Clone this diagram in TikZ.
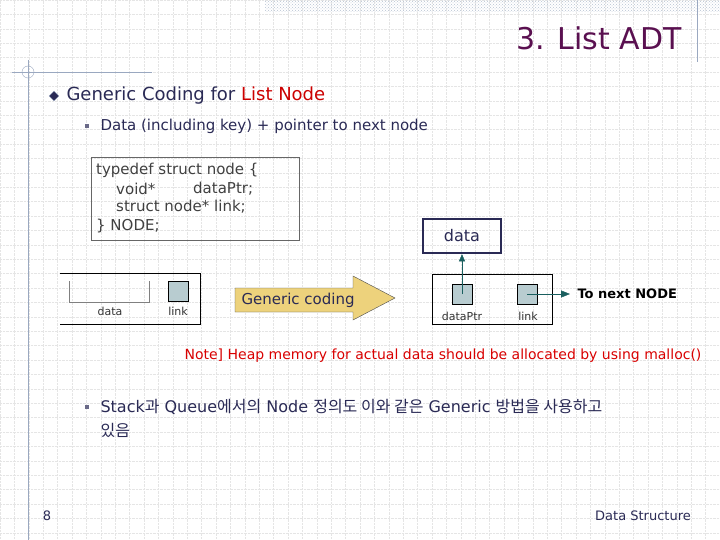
\documentclass[tikz,border=0pt]{standalone}
\usepackage{fontspec}
\setmainfont{DejaVu Sans}
\newfontfamily\krfont{Noto Sans CJK KR}
\usetikzlibrary{arrows.meta,shapes.geometric,patterns}
\definecolor{titlepurple}{HTML}{5A1050}
\definecolor{textnavy}{HTML}{2A2A55}
\definecolor{framegray}{HTML}{9AA8C0}
\definecolor{cellfill}{HTML}{B8CCD0}
\definecolor{arrowteal}{HTML}{1A5F5F}
\definecolor{arrowgold}{HTML}{EDD27C}
\tikzset{
  cell/.style={draw=black,fill=cellfill,minimum size=20pt,inner sep=0pt},
  cellabel/.style={font=\fontsize{11}{12}\selectfont,text=black!80},
  codeline/.style={anchor=west,font=\fontsize{15}{16}\selectfont,text=black!75,inner sep=0pt}
}
\begin{document}
\begin{tikzpicture}[x=1pt,y=-1pt]
\useasboundingbox (0,0) rectangle (720,540);
\fill[white] (0,0) rectangle (720,540);


% grid
\draw[black!10,densely dotted,step=14.4pt] (0,0) grid (720,540);
\fill[pattern=crosshatch dots,pattern color=framegray!70] (265,0) rectangle (720,12);
\draw[framegray] (697,0) -- (697,62);
\draw[framegray] (12,72) -- (152,72);
\draw[framegray] (28,60) -- (28,540);
\draw[framegray] (28,72) circle (6);


% title and bullets
\node[anchor=east,text=titlepurple,font=\fontsize{30}{36}\selectfont] (title) at (685,38) {3. List ADT};
\node[diamond,fill=textnavy,draw=framegray,inner sep=2.5pt] (bulletA) at (54,96) {};
\node[anchor=west,text=textnavy,font=\fontsize{18}{20}\selectfont] (headA) at (63,96) {Generic Coding for \textcolor{red!80!black}{List Node}};
\node[fill=textnavy!70,inner sep=2.2pt] (bulletB) at (87,126) {};
\node[anchor=west,text=textnavy,font=\fontsize{15}{16}\selectfont] (headB) at (97,126) {Data (including key) + pointer to next node};


% code box
\draw[black!60] (91,157) rectangle (299,240);
\node[codeline] (codeA) at (96,170) {typedef struct node \{};
\node[codeline] (codeB) at (116,189) {void*};
\node[codeline] (codeC) at (193,189) {dataPtr;};
\node[codeline] (codeD) at (116,207) {struct node* link;};
\node[codeline] (codeE) at (96,226) {\} NODE;};


% left node
\draw[black] (60,273) -- (200,273) -- (200,324) -- (60,324);
\draw[black!50] (69,281) -- (69,302) -- (149,302) -- (149,281);
\node[cell] (linkL) at (178,291) {};
\node[cellabel] (dataLabelL) at (110,311) {data};
\node[cellabel] (linkLabelL) at (178,311) {link};


% generic coding arrow
\draw[black!70,fill=arrowgold] (235,288) -- (353,288) -- (353,276) -- (395,298)
  -- (353,320) -- (353,312) -- (235,312) -- cycle;
\node[anchor=west,text=textnavy,font=\fontsize{15}{16}\selectfont] (genericText) at (238,300) {Generic coding};


% right node
\draw[black] (432,274) rectangle (552,324);
\node[cell] (dataPtr) at (462,294) {};
\node[cell] (linkR) at (527,294) {};
\node[cellabel] (dataPtrLabel) at (462,316) {dataPtr};
\node[cellabel] (linkLabelR) at (528,316) {link};
\node[draw=textnavy,line width=2.5pt,minimum width=78pt,minimum height=34pt,
  text=textnavy,font=\fontsize{16}{18}\selectfont] (data) at (462,236) {data};
\coordinate (next) at (570,294);
\node[anchor=west,font=\bfseries\fontsize{13}{14}\selectfont] (nextText) at (574,294) {To next NODE};
\draw[-{Triangle[length=7pt,width=6pt]},arrowteal] (dataPtr.center) -- (data.south);
\draw[-{Triangle[length=9pt,width=7pt]},arrowteal] (linkR.center) -- (next);


% note and korean bullet
\node[text=red!85!black,font=\fontsize{14}{16}\selectfont] (note) at (443,356) {Note] Heap memory for actual data should be allocated by using malloc()};
\node[fill=textnavy!70,inner sep=2.2pt] (bulletC) at (87,407) {};
\node[anchor=west,text=textnavy,font=\fontsize{16}{18}\selectfont] (koreanA) at (97,407) {Stack{\krfont 과} Queue{\krfont 에서의} Node {\krfont 정의도 이와 같은} Generic {\krfont 방법을 사용하고}};
\node[anchor=west,text=textnavy,font=\krfont\fontsize{16}{18}\selectfont] (koreanB) at (97,430) {있음};


% footer
\node[text=textnavy,font=\fontsize{13}{14}\selectfont] (page) at (47,516) {8};
\node[text=textnavy,font=\fontsize{13}{14}\selectfont] (footer) at (643,516) {Data Structure};
\end{tikzpicture}
\end{document}
